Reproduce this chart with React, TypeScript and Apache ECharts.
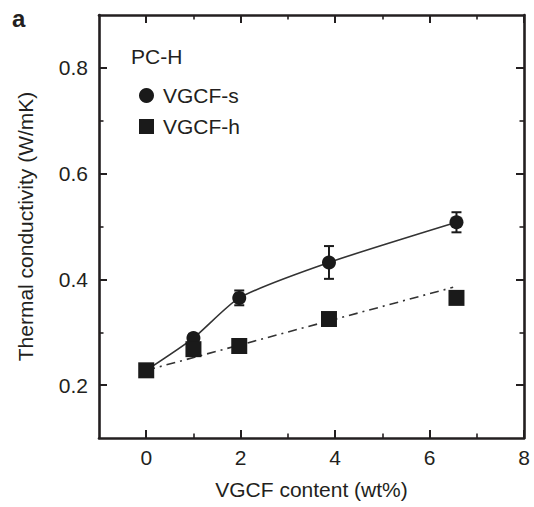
import React, { useEffect, useRef } from "react";
import * as echarts from "echarts";

const FONT = "'Liberation Sans', Arial, Helvetica, sans-serif";
const INK = "#231f20";

// VGCF-s (circles) : [wt%, W/mK]
const sX = [0, 1, 1.97, 3.87, 6.57];
const sY = [0.228, 0.289, 0.365, 0.432, 0.508];
const sErr = [0, 0.008, 0.014, 0.031, 0.019];

// VGCF-h (squares)
const hX = [0, 1, 1.97, 3.87, 6.57];
const hY = [0.228, 0.268, 0.274, 0.325, 0.365];

// linear guide for VGCF-h (dash-dot)
const fitX = [0, 6.5];
const fitY = [0.228, 0.385];

const xMajor = [0, 2, 4, 6, 8];
const xMinor = [1, 3, 5, 7];
const yMajor = [0.2, 0.4, 0.6, 0.8];
const yMinor = [0.3, 0.5, 0.7];

export default function App() {
  const ref = useRef<HTMLDivElement>(null);
  useEffect(() => {
    if (!ref.current) return;
    const chart = echarts.init(ref.current, null, { renderer: "svg" });

    const xBase = (pos: string, ticks: number[], len: number, w: number, main: boolean) => ({
      type: "value",
      position: pos,
      min: -1,
      max: 8,
      splitLine: { show: false },
      axisLine: { show: main, onZero: false, lineStyle: { color: INK, width: 2.6 } },
      axisTick: {
        show: true,
        inside: true,
        length: len,
        customValues: ticks,
        lineStyle: { color: INK, width: w },
      },
      axisLabel: {
        show: main && pos === "bottom",
        customValues: xMajor,
        margin: 9,
        fontSize: 21,
        fontFamily: FONT,
        color: INK,
      },
      ...(main && pos === "bottom"
        ? {
            name: "VGCF content (wt%)",
            nameLocation: "middle",
            nameGap: 41,
            nameTextStyle: { fontSize: 21, fontFamily: FONT, color: INK },
          }
        : {}),
    });

    const yBase = (pos: string, ticks: number[], len: number, w: number, main: boolean) => ({
      type: "value",
      position: pos,
      min: 0.1,
      max: 0.9,
      splitLine: { show: false },
      axisLine: { show: main, onZero: false, lineStyle: { color: INK, width: 2.6 } },
      axisTick: {
        show: true,
        inside: true,
        length: len,
        customValues: ticks,
        lineStyle: { color: INK, width: w },
      },
      axisLabel: {
        show: main && pos === "left",
        customValues: yMajor,
        margin: 11,
        fontSize: 21,
        fontFamily: FONT,
        color: INK,
        formatter: (v: number) => v.toFixed(1),
      },
      ...(main && pos === "left"
        ? {
            name: "Thermal conductivity (W/mK)",
            nameLocation: "middle",
            nameGap: 63,
            nameTextStyle: { fontSize: 21, fontFamily: FONT, color: INK },
          }
        : {}),
    });

    const zip = (a: number[], b: number[]) => a.map((v, i) => [v, b[i]]);

    chart.setOption({
      animation: false,
      backgroundColor: "#ffffff",
      textStyle: { fontFamily: FONT },
      grid: { left: 99, top: 15, width: 425, height: 423, containLabel: false },
      title: {
        text: "PC-H",
        left: 126,
        top: 41,
        textStyle: { fontSize: 21, fontWeight: "normal", fontFamily: FONT, color: INK },
      },
      legend: {
        orient: "vertical",
        left: 139,
        top: 85,
        padding: 0,
        itemWidth: 15,
        itemHeight: 15,
        itemGap: 10,
        selectedMode: false,
        itemStyle: { opacity: 1 },
        textStyle: { fontSize: 21, fontFamily: FONT, color: INK, padding: [0, 0, 0, 4] },
        data: [
          { name: "VGCF-s", icon: "circle" },
          { name: "VGCF-h", icon: "rect" },
        ],
      },
      graphic: [
        {
          type: "text",
          left: 12,
          top: 6,
          style: { text: "a", font: `bold 24px ${FONT}`, fill: INK },
        },
      ],
      xAxis: [
        xBase("bottom", xMajor, 8, 2, true),
        xBase("bottom", xMinor, 4.5, 1.6, false),
        xBase("top", xMajor, 8, 2, true),
        xBase("top", xMinor, 4.5, 1.6, false),
      ],
      yAxis: [
        yBase("left", yMajor, 8, 2, true),
        yBase("left", yMinor, 4.5, 1.6, false),
        yBase("right", yMajor, 8, 2, true),
        yBase("right", yMinor, 4.5, 1.6, false),
      ],
      series: [
        {
          name: "s-curve",
          type: "line",
          data: zip(sX, sY),
          smooth: 0.2,
          symbol: "none",
          lineStyle: { color: "#333", width: 1.6 },
          z: 2,
        },
        {
          name: "h-fit",
          type: "line",
          data: zip(fitX, fitY),
          symbol: "none",
          lineStyle: { color: "#333", width: 1.6, type: [9, 5, 2, 5] },
          z: 2,
        },
        {
          name: "s-err",
          type: "custom",
          data: sX.map((x, i) => [x, sY[i], sErr[i]]),
          z: 3,
          renderItem: (_p: any, api: any) => {
            const x = api.value(0);
            const y = api.value(1);
            const e = api.value(2);
            if (!e) return null;
            const top = api.coord([x, y + e]);
            const bot = api.coord([x, y - e]);
            const cw = 5;
            const st = { stroke: "#1a1a1a", lineWidth: 2 };
            return {
              type: "group",
              children: [
                { type: "line", shape: { x1: top[0], y1: top[1], x2: bot[0], y2: bot[1] }, style: st },
                { type: "line", shape: { x1: top[0] - cw, y1: top[1], x2: top[0] + cw, y2: top[1] }, style: st },
                { type: "line", shape: { x1: bot[0] - cw, y1: bot[1], x2: bot[0] + cw, y2: bot[1] }, style: st },
              ],
            };
          },
        },
        {
          name: "VGCF-s",
          type: "scatter",
          data: zip(sX, sY),
          symbol: "circle",
          symbolSize: 14,
          itemStyle: { color: "#1a1a1a", opacity: 1 },
          z: 4,
        },
        {
          name: "VGCF-h",
          type: "scatter",
          data: zip(hX, hY),
          symbol: "rect",
          symbolSize: 16,
          itemStyle: { color: "#1a1a1a", opacity: 1 },
          z: 5,
        },
      ],
    });
    return () => chart.dispose();
  }, []);
  return <div ref={ref} style={{ width: 534, height: 507, position: "absolute", left: 0, top: 0 }} />;
}
